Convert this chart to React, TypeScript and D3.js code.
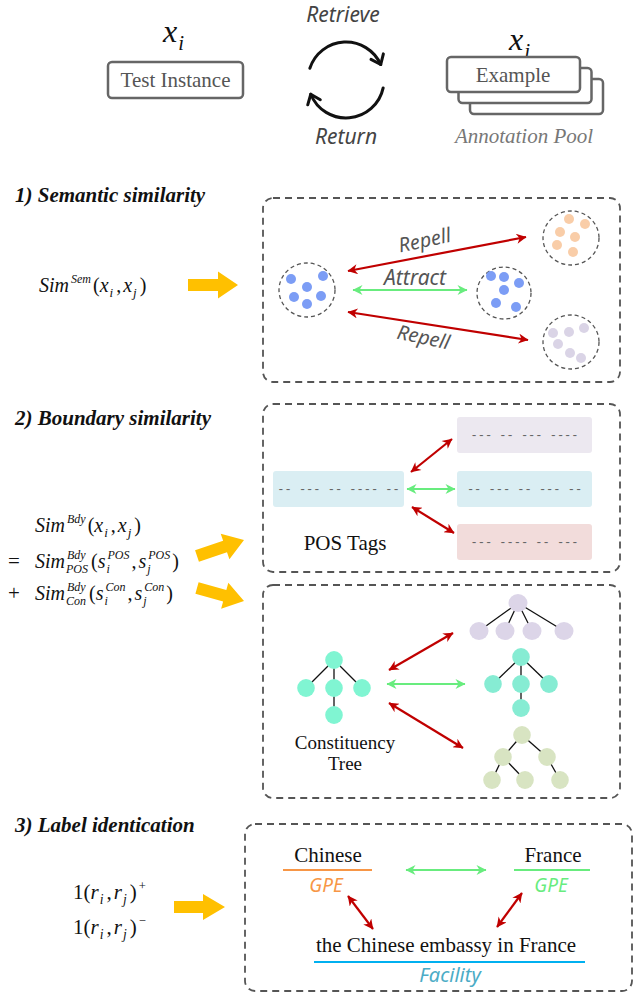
import React, { useEffect, useRef } from 'react';
import * as d3 from 'd3';

const W = 641;
const H = 993;
const SERIF = 'Liberation Serif';
const COMIC = 'Noto Sans';
const MONO = 'Liberation Mono';

// ---- text content ----
const sectionTitles = ['1) Semantic similarity', '2) Boundary similarity', '3) Label identication'];
const poolLabels = ['Test Instance', 'Example', 'Annotation Pool'];
const cycleLabels = ['Retrieve', 'Return'];
const relationLabels = ['Repell', 'Attract', 'Repell'];
const posDashes = ['-- --- -- ---- --', '--- -- --- ----', '-- --- -- --- --', '--- ---- -- ---'];
const boundaryNames = ['POS Tags', 'Constituency', 'Tree'];
const entityWords = ['Chinese', 'France', 'the Chinese embassy in France'];
const entityTypes = ['GPE', 'GPE', 'Facility'];

// ---- formulas (tokens: ^sup, _sub, ^sup_sub) ----
const semFormula = ['Sim', '^Sem', '(', 'x', '_i', ',', 'x', '_j', ')'];
const bdyFormula = ['Sim', '^Bdy', '(', 'x', '_i', ',', 'x', '_j', ')'];
const posFormula = ['Sim', '^Bdy_POS', '(', 's', '^POS_i', ',', 's', '^POS_j', ')'];
const conFormula = ['Sim', '^Bdy_Con', '(', 's', '^Con_i', ',', 's', '^Con_j', ')'];
const plusFormula = ['1', '(', 'r', '_i', ',', 'r', '_j', ')', '^+'];
const minusFormula = ['1', '(', 'r', '_i', ',', 'r', '_j', ')', '^\u2212'];

// ---- clusters: dot offsets from cluster centre ----
const blueDotsA = [[-16, -11], [16, -14], [0, -3], [-13, 7], [14, 6], [0, 14]];
const blueDotsB = [[-13, -17], [0, -16], [15, -10], [0, -3], [-8, 10], [12, 14]];
const peachDots = [[-2, -19], [14, -14], [-11, -6], [4, -1], [-14, 7], [2, 14]];
const lilacDots = [[-18, -9], [-2, -10], [13, -14], [-13, 2], [-1, 11], [10, 16]];

// ---- trees: node offsets from root and parent index ----
const treeMain = { nodes: [[0, 0], [-28, 28], [0, 28], [28, 28], [0, 55]], parent: [-1, 0, 0, 0, 2] };
const treeFlat = { nodes: [[0, 0], [-39, 28], [-13, 28], [14, 28], [46, 28]], parent: [-1, 0, 0, 0, 0] };
const treeSame = { nodes: [[0, 0], [-28, 27], [0, 27], [28, 27], [0, 51]], parent: [-1, 0, 0, 0, 2] };
const treeDeep = { nodes: [[0, 0], [-19, 22], [25, 22], [-30, 45], [3, 45], [38, 45]], parent: [-1, 0, 0, 1, 1, 2] };

const RED = '#C00000';
const GREEN = '#68EC7E';
const GOLD = '#FFC000';

function blockArrow(x1, y1, x2, y2, shaft = 12, head = 27, headLen = 20) {
  const L = Math.hypot(x2 - x1, y2 - y1);
  const ux = (x2 - x1) / L, uy = (y2 - y1) / L;
  const nx = -uy, ny = ux;
  const pts = [
    [0, -shaft / 2], [L - headLen, -shaft / 2], [L - headLen, -head / 2], [L, 0],
    [L - headLen, head / 2], [L - headLen, shaft / 2], [0, shaft / 2],
  ].map(([a, b]) => [x1 + ux * a + nx * b, y1 + uy * a + ny * b] as [number, number]);
  return d3.line()(pts) + 'Z';
}

function drawMath(g, x, y, tokens, size) {
  let cx = x;
  const put = (s, xx, yy, fs) =>
    g.append('text')
      .attr('x', xx).attr('y', yy)
      .attr('font-size', fs)
      .attr('font-family', SERIF)
      .attr('font-style', /[A-Za-z]/.test(s) ? 'italic' : 'normal')
      .attr('fill', '#111')
      .text(s);
  tokens.forEach((tok) => {
    if (tok[0] === '^' || tok[0] === '_') {
      let sup = null, sub = null;
      if (tok[0] === '^') {
        const parts = tok.slice(1).split('_');
        sup = parts[0];
        sub = parts[1] || null;
      } else sub = tok.slice(1);
      let w = 0;
      if (sup) {
        const el = put(sup, cx + 2, y - size * 0.45, size * 0.6);
        w = Math.max(w, el.node().getComputedTextLength());
      }
      if (sub) {
        const el = put(sub, cx + 1, y + size * 0.26, size * (sup ? 0.6 : 0.65));
        w = Math.max(w, el.node().getComputedTextLength());
      }
      cx += w + 4;
    } else {
      const el = put(tok, cx, y, size);
      cx += el.node().getComputedTextLength() + (tok === ',' ? 2 : 0);
    }
  });
}

const App: React.FC = () => {
  const ref = useRef(null);

  useEffect(() => {
    const svg = d3.select(ref.current);
    svg.selectAll('*').remove();

    const defs = svg.append('defs');
    [['red', RED], ['green', GREEN]].forEach(([id, c]) => {
      defs.append('marker')
        .attr('id', 'ah-' + id)
        .attr('viewBox', '0 0 10 10')
        .attr('refX', 9.5).attr('refY', 5)
        .attr('markerWidth', 11).attr('markerHeight', 10)
        .attr('markerUnits', 'userSpaceOnUse')
        .attr('orient', 'auto-start-reverse')
        .append('path')
        .attr('d', 'M0,0 L10,5 L0,10 L3,5 Z')
        .attr('fill', c);
    });

    const g = svg.append('g');

    const relArrow = (x1, y1, x2, y2, kind) =>
      g.append('line')
        .attr('x1', x1).attr('y1', y1).attr('x2', x2).attr('y2', y2)
        .attr('stroke', kind === 'red' ? RED : GREEN)
        .attr('stroke-width', 2.2)
        .attr('marker-start', `url(#ah-${kind})`)
        .attr('marker-end', `url(#ah-${kind})`);

    const dashedBox = (x, y, w, h) =>
      g.append('rect')
        .attr('x', x).attr('y', y).attr('width', w).attr('height', h)
        .attr('rx', 10)
        .attr('fill', 'none')
        .attr('stroke', '#555')
        .attr('stroke-width', 1.8)
        .attr('stroke-dasharray', '7,5');

    const serifText = (s, x, y, size, opts: any = {}) =>
      g.append('text')
        .attr('x', x).attr('y', y)
        .attr('font-family', SERIF)
        .attr('font-size', size)
        .attr('font-style', opts.italic ? 'italic' : 'normal')
        .attr('font-weight', opts.bold ? 'bold' : 'normal')
        .attr('text-anchor', opts.anchor || 'start')
        .attr('fill', opts.fill || '#111')
        .text(s);

    const comicText = (s, x, y, size, fill, rot = 0) =>
      g.append('text')
        .attr('transform', `translate(${x},${y}) rotate(${rot})`)
        .attr('font-family', COMIC)
        .attr('font-style', 'italic')
        .attr('font-size', size)
        .attr('text-anchor', 'middle')
        .attr('fill', fill)
        .text(s);

    // ===== top: retrieval loop =====
    drawMath(g, 163, 42, ['x', '_i'], 32);
    drawMath(g, 509, 50, ['x', '_j'], 32);

    g.append('rect')
      .attr('x', 108).attr('y', 62).attr('width', 135).attr('height', 36)
      .attr('rx', 4).attr('fill', '#fff').attr('stroke', '#666').attr('stroke-width', 2.5);
    serifText(poolLabels[0], 175.5, 87, 21, { anchor: 'middle', fill: '#555' });

    [2, 1, 0].forEach((k) => {
      g.append('rect')
        .attr('x', 447 + k * 11.5).attr('y', 57 + k * 11)
        .attr('width', 133).attr('height', 35)
        .attr('rx', 4).attr('fill', '#fff').attr('stroke', '#666').attr('stroke-width', 2.5);
    });
    serifText(poolLabels[1], 513, 82, 21, { anchor: 'middle', fill: '#555' });
    serifText(poolLabels[2], 524, 143, 21, { anchor: 'middle', italic: true, fill: '#777' });

    const cx = 346, cy = 80, r = 38;
    const rad = (d) => (d * Math.PI) / 180;
    const cycleArc = (a0, a1) => {
      const p = d3.path();
      p.moveTo(cx + r * Math.cos(rad(a0)), cy + r * Math.sin(rad(a0)));
      p.arc(cx, cy, r, rad(a0), rad(a1));
      g.append('path').attr('d', p.toString())
        .attr('fill', 'none').attr('stroke', '#111').attr('stroke-width', 3).attr('stroke-linecap', 'round');
      const th = rad(a1);
      const tx = cx + r * Math.cos(th), ty = cy + r * Math.sin(th);
      const dx = -Math.sin(th), dy = Math.cos(th);
      const arm = (s) => {
        const ang = Math.atan2(-dy, -dx) + s * rad(38);
        return [tx + 11 * Math.cos(ang), ty + 11 * Math.sin(ang)];
      };
      const a = arm(1), b = arm(-1);
      g.append('path').attr('d', `M${a[0]},${a[1]} L${tx},${ty} L${b[0]},${b[1]}`)
        .attr('fill', 'none').attr('stroke', '#111').attr('stroke-width', 3)
        .attr('stroke-linecap', 'round').attr('stroke-linejoin', 'round');
    };
    cycleArc(198, 336);
    cycleArc(12, 158);
    comicText(cycleLabels[0], 343, 22, 21, '#444');
    comicText(cycleLabels[1], 346, 144, 21, '#444');

    // ===== 1) semantic similarity =====
    serifText(sectionTitles[0], 15, 202, 21, { bold: true, italic: true });
    drawMath(g, 39, 292, semFormula, 20);
    g.append('path').attr('d', blockArrow(188, 285, 238, 285)).attr('fill', GOLD);

    dashedBox(263, 198, 357, 184);
    const cluster = (x, y, dots, color, rx = 28, ry = 27) => {
      g.append('ellipse').attr('cx', x).attr('cy', y).attr('rx', rx).attr('ry', ry)
        .attr('fill', 'none').attr('stroke', '#555').attr('stroke-width', 1.3).attr('stroke-dasharray', '4,3');
      g.selectAll(null).data(dots).join('circle')
        .attr('cx', (d) => x + d[0]).attr('cy', (d) => y + d[1]).attr('r', 5).attr('fill', color);
    };
    cluster(307, 290, blueDotsA, '#7C9DF5');
    cluster(504, 293, blueDotsB, '#7C9DF5', 27, 26);
    cluster(571, 238, peachDots, '#F9CDA8');
    cluster(571, 342, lilacDots, '#DAD4E6');

    relArrow(348, 271, 526, 237, 'red');
    relArrow(353, 290, 467, 290, 'green');
    relArrow(348, 312, 528, 340, 'red');
    comicText(relationLabels[0], 426, 247, 20, '#555', -12);
    comicText(relationLabels[1], 415, 285, 21, '#555');
    comicText(relationLabels[2], 422, 344, 20, '#555', 12);

    // ===== 2) boundary similarity =====
    serifText(sectionTitles[1], 15, 425, 21, { bold: true, italic: true });
    drawMath(g, 35, 532, bdyFormula, 20);
    serifText('=', 8, 568, 21);
    drawMath(g, 35, 568, posFormula, 20);
    serifText('+', 8, 600, 21);
    drawMath(g, 35, 600, conFormula, 20);
    g.append('path').attr('d', blockArrow(197, 556, 244, 540)).attr('fill', GOLD);
    g.append('path').attr('d', blockArrow(197, 588, 244, 601)).attr('fill', GOLD);

    // POS tags box
    dashedBox(263, 404, 357, 168);
    const tagRect = (x, y, w, fill, s) => {
      g.append('rect').attr('x', x).attr('y', y).attr('width', w).attr('height', 36)
        .attr('rx', 3).attr('fill', fill);
      g.append('text').attr('x', x + w / 2).attr('y', y + 22)
        .attr('text-anchor', 'middle').attr('font-family', MONO).attr('font-size', 12)
        .attr('fill', '#666').text(s);
    };
    tagRect(273, 471, 131, '#DAEEF3', posDashes[0]);
    tagRect(457, 417, 135, '#ECE8F0', posDashes[1]);
    tagRect(457, 471, 135, '#DAEEF3', posDashes[2]);
    tagRect(457, 524, 135, '#F2DCDB', posDashes[3]);
    relArrow(411, 472, 452, 439, 'red');
    relArrow(407, 489, 455, 489, 'green');
    relArrow(412, 507, 454, 533, 'red');
    serifText(boundaryNames[0], 345, 550, 21, { anchor: 'middle' });

    // constituency tree box
    dashedBox(263, 585, 357, 213);
    const tree = (x, y, t, color, rx = 8.8, ry = 9) => {
      t.parent.forEach((p, i) => {
        if (p < 0) return;
        g.append('line')
          .attr('x1', x + t.nodes[p][0]).attr('y1', y + t.nodes[p][1])
          .attr('x2', x + t.nodes[i][0]).attr('y2', y + t.nodes[i][1])
          .attr('stroke', '#111').attr('stroke-width', 1.3);
      });
      g.selectAll(null).data(t.nodes).join('ellipse')
        .attr('cx', (d) => x + d[0]).attr('cy', (d) => y + d[1])
        .attr('rx', rx).attr('ry', ry).attr('fill', color);
    };
    tree(334, 660, treeMain, '#80F5D2');
    tree(518, 603, treeFlat, '#DCD5E8', 9.5, 9);
    tree(521, 657, treeSame, '#86ECD3');
    tree(522, 735, treeDeep, '#D8E4C2');
    relArrow(389, 670, 453, 633, 'red');
    relArrow(387, 684, 465, 684, 'green');
    relArrow(389, 703, 463, 748, 'red');
    serifText(boundaryNames[1], 345, 749, 19, { anchor: 'middle' });
    serifText(boundaryNames[2], 345, 770, 19, { anchor: 'middle' });

    // ===== 3) label identification =====
    serifText(sectionTitles[2], 15, 832, 21, { bold: true, italic: true });
    drawMath(g, 73, 899, plusFormula, 21);
    drawMath(g, 73, 934, minusFormula, 21);
    g.append('path').attr('d', blockArrow(174, 907, 225, 907, 12, 26, 22)).attr('fill', GOLD);

    dashedBox(245, 824, 387, 167);
    serifText(entityWords[0], 328, 862, 21, { anchor: 'middle' });
    g.append('line').attr('x1', 283).attr('x2', 372).attr('y1', 870).attr('y2', 870)
      .attr('stroke', '#F79646').attr('stroke-width', 2);
    comicText(entityTypes[0], 326, 892, 19, '#F79646');

    serifText(entityWords[1], 553, 862, 21, { anchor: 'middle' });
    g.append('line').attr('x1', 514).attr('x2', 590).attr('y1', 870).attr('y2', 870)
      .attr('stroke', GREEN).attr('stroke-width', 2);
    comicText(entityTypes[1], 551, 892, 19, GREEN);

    relArrow(406, 870, 486, 870, 'green');
    relArrow(348, 896, 373, 929, 'red');
    relArrow(522, 893, 497, 927, 'red');

    serifText(entityWords[2], 446, 952, 21, { anchor: 'middle' });
    g.append('line').attr('x1', 314).attr('x2', 585).attr('y1', 962).attr('y2', 962)
      .attr('stroke', '#00B0F0').attr('stroke-width', 2.2);
    comicText(entityTypes[2], 450, 982, 20, '#4BACC6');
  }, []);

  return (
    <div style={{ position: 'absolute', left: 0, top: 0, width: W, height: H, background: '#fff' }}>
      <svg ref={ref} width={W} height={H} style={{ display: 'block' }}></svg>
    </div>
  );
};

export default App;
